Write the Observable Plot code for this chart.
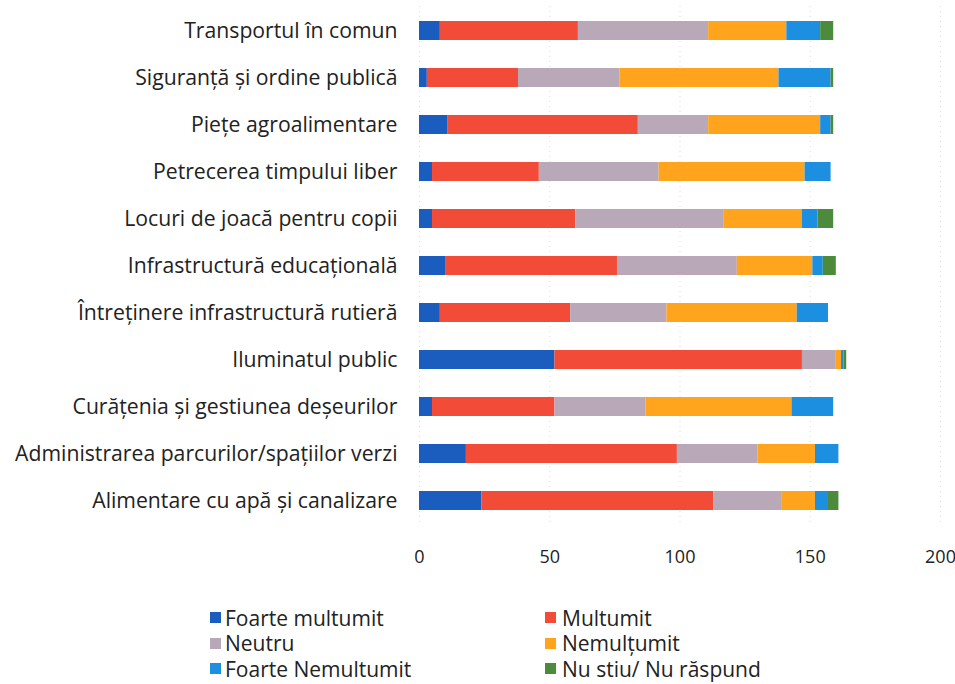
<!DOCTYPE html>
<html>
<head>
<meta charset="utf-8">
<script src="https://cdn.jsdelivr.net/npm/d3@7"></script>
<script src="https://cdn.jsdelivr.net/npm/@observablehq/plot@0.6"></script>
<style>
  body { margin: 0; background: #fff; font-family: "Open Sans", Lato, sans-serif; }
  #legend { display: grid; grid-template-columns: 335px 300px; margin-left: 210px; margin-top: 15px; font-size: 21px; color: #222; }
  .item { display: flex; align-items: center; height: 25.5px; white-space: nowrap; }
  .sw { width: 11px; height: 11px; margin-right: 4px; display: inline-block; flex: none; }
  .item.r .sw { margin-right: 6px; }
</style>
</head>
<body>
<div id="chart"></div>
<div id="legend"></div>
<script>
const categories = [
  "Transportul în comun",
  "Siguranță și ordine publică",
  "Piețe agroalimentare",
  "Petrecerea timpului liber",
  "Locuri de joacă pentru copii",
  "Infrastructură educațională",
  "Întreținere infrastructură rutieră",
  "Iluminatul public",
  "Curățenia și gestiunea deșeurilor",
  "Administrarea parcurilor/spațiilor verzi",
  "Alimentare cu apă și canalizare"
];
const series = ["Foarte multumit", "Multumit", "Neutru", "Nemulțumit", "Foarte Nemultumit", "Nu stiu/ Nu răspund"];
const foarteMultumit   = [8, 3, 11, 5, 5, 10, 8, 52, 5, 18, 24];
const multumit         = [53, 35, 73, 41, 55, 66, 50, 95, 47, 81, 89];
const neutru           = [50, 39, 27, 46, 57, 46, 37, 13, 35, 31, 26];
const nemultumit       = [30, 61, 43, 56, 30, 29, 50, 2, 56, 22, 13];
const foarteNemultumit = [13, 20, 4, 10, 6, 4, 12, 1, 16, 9, 5];
const nuStiu           = [5, 1, 1, 0, 6, 5, 0, 1, 0, 0, 4];
const xTicks = [0, 50, 100, 150, 200];
const colors = ["#1b5cbf", "#f24b38", "#b9a8b8", "#ffa41c", "#1d8fe1", "#4b8b3b"];

const valueSets = [foarteMultumit, multumit, neutru, nemultumit, foarteNemultumit, nuStiu];
const data = [];
categories.forEach((c, i) => {
  series.forEach((s, j) => data.push({category: c, series: s, value: valueSets[j][i]}));
});

const chart = Plot.plot({
  width: 955,
  height: 590,
  marginLeft: 419,
  marginRight: 15,
  marginTop: 6,
  marginBottom: 65,
  style: {fontFamily: "'Open Sans', Lato, sans-serif", color: "#222"},
  x: {domain: [0, 200], ticks: xTicks, label: null},
  y: {domain: categories, padding: 0, label: null},
  color: {domain: series, range: colors},
  marks: [
    Plot.gridX(xTicks, {stroke: "#bbb", strokeOpacity: 0.5, strokeDasharray: "1,4"}),
    Plot.barX(data, Plot.stackX({x: "value", y: "category", fill: "series", order: null, insetTop: 14, insetBottom: 14})),
    Plot.axisY({tickSize: 0, tickPadding: 22, fontSize: 21.2, label: null}),
    Plot.axisX(xTicks, {tickSize: 0, tickPadding: 25, fontSize: 18, label: null})
  ]
});
document.getElementById("chart").appendChild(chart);

const legend = document.getElementById("legend");
series.forEach((s, j) => {
  const d = document.createElement("div");
  d.className = "item" + (j % 2 ? " r" : "");
  d.innerHTML = `<span class="sw" style="background:${colors[j]}"></span><span>${s}</span>`;
  legend.appendChild(d);
});
</script>
</body>
</html>
